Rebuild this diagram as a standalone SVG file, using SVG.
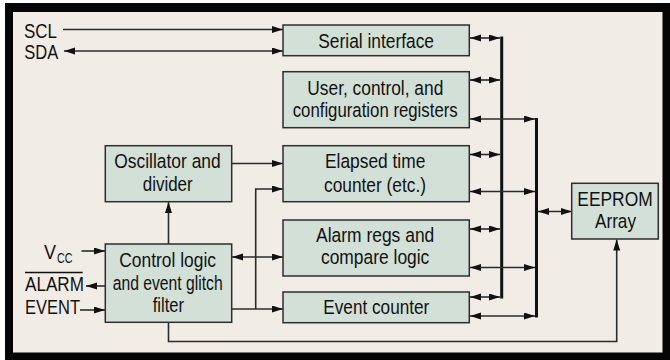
<svg xmlns="http://www.w3.org/2000/svg" width="670" height="360" viewBox="0 0 670 360">
  <style>
    .box { fill: #d3e0d7; stroke: #2e2e2e; stroke-width: 1.5; }
    .lbl { font-family: "Liberation Sans", Arial, sans-serif; font-size: 20.5px; fill: #111; }
    .sub { font-family: "Liberation Sans", Arial, sans-serif; font-size: 14px; fill: #111; }
    .wire { fill: none; stroke: #2b2b2b; stroke-width: 1.6; }
    .bus { fill: none; stroke: #111; stroke-width: 3; }
    .one { marker-end: url(#head); }
    .two { marker-start: url(#head); marker-end: url(#head); }
  </style>
  <defs>
    <marker id="head" markerUnits="userSpaceOnUse" markerWidth="12" markerHeight="8" refX="11" refY="3.5" orient="auto-start-reverse">
      <path d="M0,0 L11,3.5 L0,7 z" fill="#111"/>
    </marker>
  </defs>

  <!-- frame -->
  <rect x="0" y="0" width="670" height="360" fill="#ffffff"/>
  <rect x="5" y="3" width="665" height="357" fill="#050505"/>
  <rect x="13" y="12" width="649.5" height="340.5" fill="#f1ede6"/>

  <!-- connectors -->
  <g id="connectors">
    <!-- buses -->
    <line class="bus" x1="501.7" y1="36.5" x2="501.7" y2="298.5"/>
    <line class="bus" x1="536.5" y1="118" x2="536.5" y2="317.5"/>

    <!-- serial inputs -->
    <line class="wire one" x1="63" y1="29.5" x2="283" y2="29.5"/>
    <line class="wire two" x1="64" y1="51" x2="283" y2="51"/>

    <!-- blocks to bus 1 -->
    <line class="wire two" x1="470" y1="38" x2="500" y2="38"/>
    <line class="wire two" x1="470" y1="80" x2="500" y2="80"/>
    <line class="wire two" x1="470" y1="154.5" x2="500" y2="154.5"/>
    <line class="wire two" x1="470" y1="229" x2="500" y2="229"/>
    <line class="wire two" x1="470" y1="297" x2="500" y2="297"/>

    <!-- blocks to bus 2 -->
    <line class="wire two" x1="470" y1="119" x2="535" y2="119"/>
    <line class="wire two" x1="470" y1="191.5" x2="535" y2="191.5"/>
    <line class="wire two" x1="470" y1="267.5" x2="535" y2="267.5"/>
    <line class="wire two" x1="470" y1="316" x2="535" y2="316"/>

    <!-- bus 2 to EEPROM -->
    <line class="wire two" x1="538" y1="211.5" x2="572" y2="211.5"/>

    <!-- oscillator to elapsed time counter -->
    <line class="wire one" x1="232" y1="163.5" x2="283" y2="163.5"/>
    <!-- control logic to oscillator -->
    <line class="wire one" x1="168.5" y1="244" x2="168.5" y2="202"/>
    <!-- control logic to alarm regs -->
    <line class="wire two" x1="232" y1="257" x2="283" y2="257"/>
    <!-- control logic to event counter and elapsed time counter -->
    <line class="wire one" x1="232" y1="309" x2="283" y2="309"/>
    <polyline class="wire one" points="255.7,309 255.7,189 283,189"/>
    <!-- control logic to EEPROM -->
    <polyline class="wire one" points="168.5,322 168.5,341.5 616.7,341.5 616.7,239.5"/>

    <!-- pins -->
    <line class="wire one" x1="81.5" y1="251" x2="105" y2="251"/>
    <line class="wire one" x1="105" y1="286" x2="86" y2="286"/>
    <line class="wire one" x1="80" y1="310" x2="105" y2="310"/>
  </g>

  <!-- pin labels -->
  <g id="pins">
    <text class="lbl" x="24" y="38.3" textLength="33" lengthAdjust="spacingAndGlyphs">SCL</text>
    <text class="lbl" x="24.3" y="59.3" textLength="34" lengthAdjust="spacingAndGlyphs">SDA</text>
    <text class="lbl" x="44" y="259" textLength="12" lengthAdjust="spacingAndGlyphs">V</text>
    <text class="sub" x="57" y="263" textLength="15.5" lengthAdjust="spacingAndGlyphs">CC</text>
    <text class="lbl" x="25" y="290.7" textLength="59" lengthAdjust="spacingAndGlyphs">ALARM</text>
    <line x1="25" y1="272.5" x2="82.7" y2="272.5" stroke="#111" stroke-width="1.3"/>
    <text class="lbl" x="25" y="314" textLength="55" lengthAdjust="spacingAndGlyphs">EVENT</text>
  </g>

  <g id="serial">
    <rect class="box" x="283" y="25" width="186.3" height="30.7"/>
    <text class="lbl" x="318.3" y="47.5" textLength="115.7" lengthAdjust="spacingAndGlyphs">Serial interface</text>
  </g>

  <g id="registers">
    <rect class="box" x="283" y="71.7" width="186.3" height="56"/>
    <text class="lbl" x="307.3" y="94.5" textLength="136" lengthAdjust="spacingAndGlyphs">User, control, and</text>
    <text class="lbl" x="292.7" y="116.7" textLength="165" lengthAdjust="spacingAndGlyphs">configuration registers</text>
  </g>

  <g id="elapsed">
    <rect class="box" x="283" y="145.7" width="186.3" height="56"/>
    <text class="lbl" x="325" y="168.3" textLength="100.3" lengthAdjust="spacingAndGlyphs">Elapsed time</text>
    <text class="lbl" x="324" y="191.5" textLength="102" lengthAdjust="spacingAndGlyphs">counter (etc.)</text>
  </g>

  <g id="alarm">
    <rect class="box" x="283" y="220" width="186.3" height="56"/>
    <text class="lbl" x="316" y="242.3" textLength="118.3" lengthAdjust="spacingAndGlyphs">Alarm regs and</text>
    <text class="lbl" x="321" y="264.3" textLength="108.3" lengthAdjust="spacingAndGlyphs">compare logic</text>
  </g>

  <g id="event">
    <rect class="box" x="283" y="292" width="186.3" height="30.7"/>
    <text class="lbl" x="323.3" y="314" textLength="106" lengthAdjust="spacingAndGlyphs">Event counter</text>
  </g>

  <g id="oscillator">
    <rect class="box" x="105.3" y="145.7" width="126.4" height="56"/>
    <text class="lbl" x="114.3" y="167.7" textLength="106.4" lengthAdjust="spacingAndGlyphs">Oscillator and</text>
    <text class="lbl" x="142.7" y="190.7" textLength="50" lengthAdjust="spacingAndGlyphs">divider</text>
  </g>

  <g id="control">
    <rect class="box" x="105.3" y="244" width="126.4" height="78.3"/>
    <text class="lbl" x="119.3" y="266.7" textLength="96.7" lengthAdjust="spacingAndGlyphs">Control logic</text>
    <text class="lbl" x="112.7" y="289.5" textLength="110" lengthAdjust="spacingAndGlyphs">and event glitch</text>
    <text class="lbl" x="152.7" y="311.7" textLength="31.3" lengthAdjust="spacingAndGlyphs">filter</text>
  </g>

  <g id="eeprom">
    <rect class="box" x="571.7" y="183.3" width="86.6" height="55.7"/>
    <text class="lbl" x="577.3" y="206" textLength="75.4" lengthAdjust="spacingAndGlyphs">EEPROM</text>
    <text class="lbl" x="595" y="228.3" textLength="41" lengthAdjust="spacingAndGlyphs">Array</text>
  </g>
</svg>
